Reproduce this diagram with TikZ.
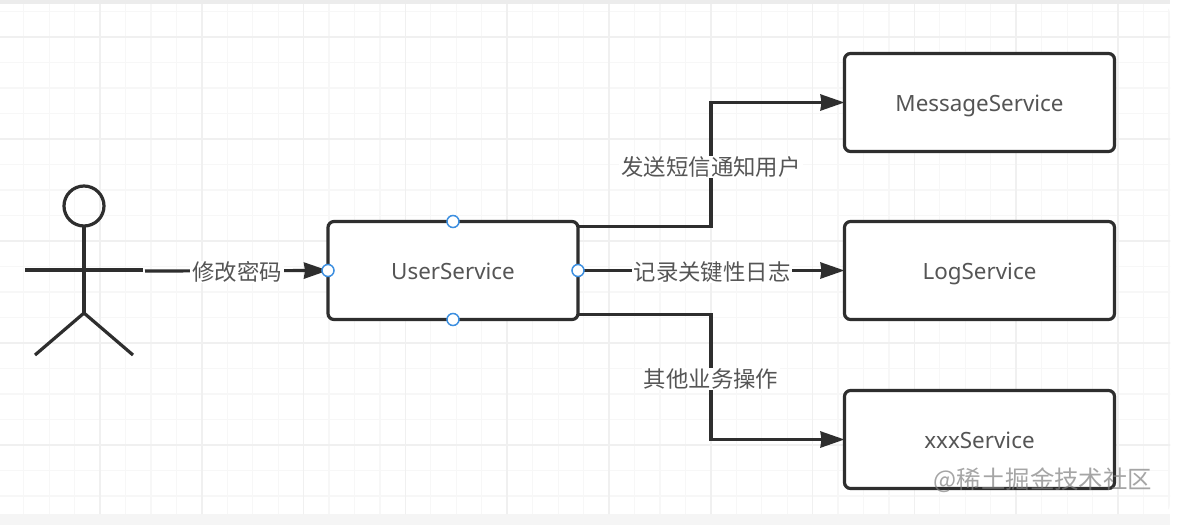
\documentclass[tikz,border=0pt]{standalone}
\usepackage{fontspec}
\setmainfont{Noto Sans}
\newfontfamily\cjk{Noto Sans CJK SC}
\usetikzlibrary{arrows.meta}
\definecolor{ink}{HTML}{2E2E2E}
\definecolor{txt}{HTML}{555555}
\definecolor{gridminor}{HTML}{F7F7F7}
\definecolor{gridmajor}{HTML}{F0F0F0}
\definecolor{handle}{HTML}{3D8FE0}
\tikzset{
  svc/.style={draw=ink,line width=3.2pt,rounded corners=6pt,fill=white,text=txt,font=\fontsize{22.4}{24}\selectfont,minimum width=#1,minimum height=98pt,inner sep=0pt,outer sep=0pt,text height=17pt,text depth=0pt},
  svc/.default=270pt,
  edgelab/.style={fill=white,text=txt,font=\cjk\fontsize{22.4}{24}\selectfont,inner xsep=2pt,inner ysep=1pt},
  link/.style={draw=ink,line width=3.2pt,-{Stealth[length=24pt,width=16pt,inset=1pt]}},
  stick/.style={draw=ink,line width=3.2pt},
  dothandle/.style={circle,draw=handle,fill=white,line width=1.5pt,minimum size=12pt,inner sep=0pt},
  gmin/.style={draw=gridminor,line width=1.2pt},
  gmaj/.style={draw=gridmajor,line width=1.6pt},
}
\begin{document}
\begin{tikzpicture}[x=1pt,y=-1pt]
\useasboundingbox (0,0) rectangle (1202,525);
\fill[white] (0,0) rectangle (1202,525);
\fill[gray!15] (0,0) rectangle (1170,4);
\fill[gray!8] (0,514) rectangle (1170,525);
\begin{scope}
\clip[rounded corners=10pt] (-20,4) rectangle (1170,514);
\foreach \i in {-3,...,42}{
  \pgfmathsetmacro{\xx}{100+25.45*\i}
  \pgfmathsetmacro{\yy}{37+25.5*\i}
  \draw[gmin] (\xx,0) -- (\xx,525);
  \draw[gmin] (0,\yy) -- (1202,\yy);
}
\foreach \i in {-1,...,11}{
  \pgfmathsetmacro{\xx}{100+101.8*\i}
  \pgfmathsetmacro{\yy}{37+102*\i}
  \draw[gmaj] (\xx,0) -- (\xx,525);
  \draw[gmaj] (0,\yy) -- (1202,\yy);
}
\end{scope}
% actor
\draw[stick] (84,206) circle (20pt);
\coordinate (neck) at (84,227);
\coordinate (hip) at (84,313);
\coordinate (handl) at (25,270);
\coordinate (handr) at (143,270);
\coordinate (footl) at (35,355);
\coordinate (footr) at (133,355);
\draw[stick] (neck) -- (hip);
\draw[stick] (handl) -- (handr);
\draw[stick] (footl) -- (hip) -- (footr);
% services
\node[svc=250pt] (user) at (453,270.5) {UserService};
\node[svc] (msg) at (979.5,102.5) {MessageService};
\node[svc] (log) at (979.5,270.5) {LogService};
\node[svc] (xxx) at (979.5,439.5) {xxxService};
% connector labels positions
\coordinate (start) at (145,271);
\coordinate (j1) at (711,167);
\coordinate (j3) at (711,379);
\draw[link] (start) -- (user.west);
\draw[link] ([yshift=44pt]user.east) -| (j1) |- (msg.west);
\draw[link] (user.east) -- (log.west);
\draw[link] ([yshift=-44pt]user.east) -| (j3) |- (xxx.west);
\node[edgelab] at (237,272) {修改密码};
\node[edgelab] at (711,167) {发送短信通知用户};
\node[edgelab] at (712,272) {记录关键性日志};
\node[edgelab] at (711,379) {其他业务操作};
% handles
\node[dothandle] at (user.north) {};
\node[dothandle] at (user.south) {};
\node[dothandle] at (user.west) {};
\node[dothandle] at (user.east) {};
% watermark
\node[text=gray,opacity=.7,font=\cjk\fontsize{24.4}{26}\selectfont,inner sep=0pt] at (1043,480) {@稀土掘金技术社区};
\end{tikzpicture}
\end{document}
